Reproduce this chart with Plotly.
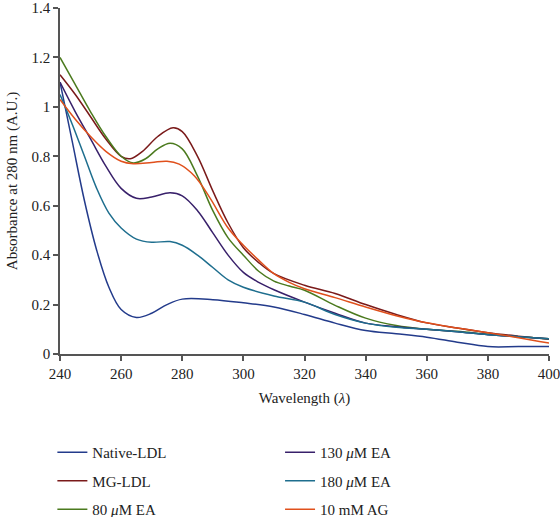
import plotly.graph_objects as go

# ---- data ----
native_x = [240, 244, 248, 252, 256, 260, 265, 270, 275, 280, 290, 300, 310, 320, 330, 340, 350, 360, 370, 380, 390, 400]
native_y = [1.10, 0.86, 0.62, 0.42, 0.27, 0.18, 0.148, 0.165, 0.20, 0.222, 0.22, 0.207, 0.19, 0.16, 0.125, 0.095, 0.082, 0.068, 0.048, 0.03, 0.03, 0.03]

mg_x = [240, 245, 250, 255, 260, 263, 267, 272, 277, 280, 285, 290, 295, 300, 305, 310, 320, 330, 340, 350, 360, 370, 380, 390, 400]
mg_y = [1.13, 1.05, 0.96, 0.87, 0.80, 0.79, 0.82, 0.88, 0.915, 0.90, 0.80, 0.66, 0.53, 0.43, 0.37, 0.325, 0.278, 0.245, 0.20, 0.16, 0.126, 0.105, 0.086, 0.072, 0.06]

ea80_x = [240, 245, 250, 255, 260, 264, 268, 272, 276, 280, 285, 290, 295, 300, 305, 310, 315, 320, 330, 340, 350, 360, 370, 380, 390, 400]
ea80_y = [1.20, 1.09, 0.98, 0.88, 0.80, 0.773, 0.79, 0.83, 0.853, 0.83, 0.72, 0.58, 0.47, 0.40, 0.335, 0.295, 0.275, 0.258, 0.197, 0.145, 0.115, 0.10, 0.092, 0.08, 0.07, 0.062]

ea130_x = [240, 245, 250, 255, 260, 265, 270, 276, 280, 285, 290, 295, 300, 305, 310, 320, 330, 340, 350, 360, 370, 380, 390, 400]
ea130_y = [1.10, 0.98, 0.87, 0.76, 0.67, 0.63, 0.635, 0.652, 0.64, 0.58, 0.49, 0.40, 0.33, 0.29, 0.26, 0.21, 0.165, 0.125, 0.11, 0.10, 0.09, 0.078, 0.07, 0.062]

ea180_x = [240, 244, 248, 252, 256, 260, 265, 270, 276, 280, 285, 290, 295, 300, 310, 320, 330, 340, 350, 360, 370, 380, 390, 400]
ea180_y = [1.05, 0.93, 0.80, 0.67, 0.57, 0.51, 0.465, 0.452, 0.455, 0.44, 0.40, 0.35, 0.30, 0.27, 0.235, 0.21, 0.16, 0.125, 0.108, 0.10, 0.09, 0.078, 0.07, 0.062]

ag_x = [240, 245, 250, 255, 260, 264, 270, 275, 279, 284, 289, 295, 300, 305, 310, 315, 320, 330, 340, 350, 360, 370, 380, 390, 400]
ag_y = [1.03, 0.95, 0.88, 0.82, 0.78, 0.77, 0.775, 0.78, 0.768, 0.72, 0.633, 0.51, 0.44, 0.38, 0.325, 0.29, 0.264, 0.228, 0.19, 0.155, 0.126, 0.105, 0.086, 0.066, 0.044]

names = ["Native-LDL", "MG-LDL", "80 <i>μ</i>M EA", "130 <i>μ</i>M EA", "180 <i>μ</i>M EA", "10 mM AG"]
colors = ["#233b8b", "#7a1a1a", "#4b7a1e", "#38206a", "#1e6e8e", "#e0501c"]
series = [(native_x, native_y), (mg_x, mg_y), (ea80_x, ea80_y), (ea130_x, ea130_y), (ea180_x, ea180_y), (ag_x, ag_y)]
legend_ids = ["legend", "legend", "legend", "legend2", "legend2", "legend2"]

x_ticks = [240, 260, 280, 300, 320, 340, 360, 380, 400]
y_ticks = [0, 0.2, 0.4, 0.6, 0.8, 1.0, 1.2, 1.4]
y_tick_text = ["0", "0.2", "0.4", "0.6", "0.8", "1", "1.2", "1.4"]

FONT = "Liberation Serif"

fig = go.Figure()
for (xs, ys), nm, col, lg in zip(series, names, colors, legend_ids):
    fig.add_trace(go.Scatter(
        x=xs, y=ys, mode="lines", name=nm, legend=lg, legendgroup=nm,
        line=dict(color=col, width=1.5, shape="spline", smoothing=1.0),
    ))

axis_common = dict(
    showgrid=False, zeroline=False, showline=True, linecolor="#555555", linewidth=1.5,
    ticks="outside", ticklen=5, tickwidth=1.5, tickcolor="#555555",
    tickfont=dict(family=FONT, size=15, color="#222222"),
    ticklabeloverflow="allow",
)

fig.update_layout(
    width=560, height=517,
    margin=dict(l=60, r=11, t=8, b=163, autoexpand=False),
    paper_bgcolor="white", plot_bgcolor="white",
    font=dict(family=FONT, size=15, color="#222222"),
    xaxis=dict(range=[240, 400], tickvals=x_ticks, automargin=False,
               title=dict(text="Wavelength (<i>λ</i>)", font=dict(family=FONT, size=15), standoff=12),
               **axis_common),
    yaxis=dict(range=[0, 1.4], tickvals=y_ticks, ticktext=y_tick_text, automargin=True,
               title=dict(text="Absorbance at 280 nm (A.U.)", font=dict(family=FONT, size=15), standoff=10),
               **axis_common),
    legend=dict(x=-0.0156, y=-0.237, xanchor="left", yanchor="top", orientation="v",
                font=dict(family=FONT, size=15), tracegroupgap=6, bgcolor="rgba(0,0,0,0)"),
    legend2=dict(x=0.450, y=-0.237, xanchor="left", yanchor="top", orientation="v",
                 font=dict(family=FONT, size=15), tracegroupgap=6, bgcolor="rgba(0,0,0,0)"),
)

# remove the default 8px page margin so the 560x517 figure fills the window
fig.write_html("out.html", config={"displayModeBar": False},
               post_script="document.body.style.margin='0';")
